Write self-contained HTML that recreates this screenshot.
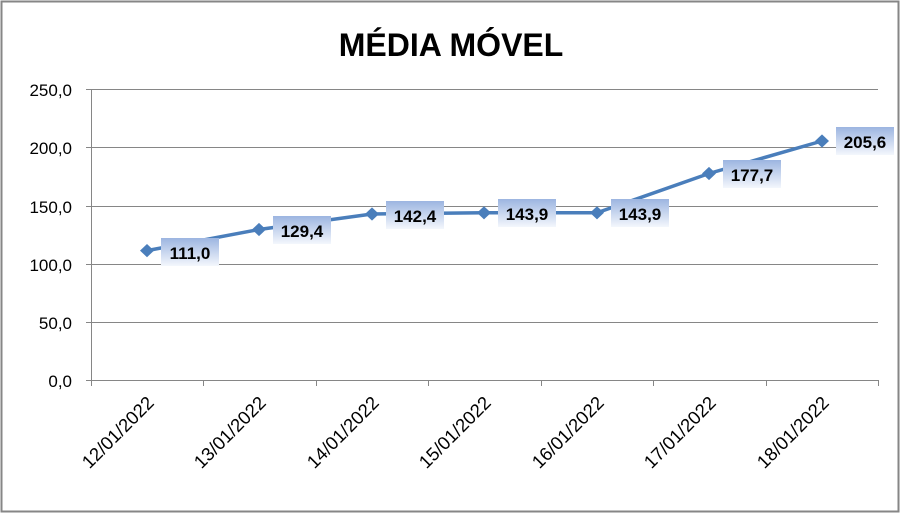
<!DOCTYPE html>
<html><head><meta charset="utf-8"><style>
body{margin:0;background:#fff}
svg{display:block;font-family:"Liberation Sans",Calibri,sans-serif}
</style></head><body>
<svg width="901" height="514" viewBox="0 0 901 514">
<defs><linearGradient id="g" x1="0" y1="0" x2="0" y2="1"><stop offset="0" stop-color="#9cb5e0"/><stop offset="1" stop-color="#f4f7fc"/></linearGradient></defs>
<rect x="1.5" y="1.5" width="897" height="510" fill="#fff" stroke="#868686" stroke-width="2"/>
<text x="451" y="56" text-anchor="middle" font-size="32" font-weight="bold" fill="#000">MÉDIA MÓVEL</text>
<g stroke="#868686" stroke-width="1">
<line x1="86" y1="89.5" x2="878" y2="89.5"/>
<line x1="86" y1="147.5" x2="878" y2="147.5"/>
<line x1="86" y1="206.5" x2="878" y2="206.5"/>
<line x1="86" y1="264.5" x2="878" y2="264.5"/>
<line x1="86" y1="322.5" x2="878" y2="322.5"/>
<line x1="86" y1="380.5" x2="878" y2="380.5"/>
<line x1="91.5" y1="89" x2="91.5" y2="386"/>
<line x1="203.5" y1="380" x2="203.5" y2="386"/><line x1="316.5" y1="380" x2="316.5" y2="386"/><line x1="428.5" y1="380" x2="428.5" y2="386"/><line x1="541.5" y1="380" x2="541.5" y2="386"/><line x1="653.5" y1="380" x2="653.5" y2="386"/><line x1="766.5" y1="380" x2="766.5" y2="386"/><line x1="878.5" y1="380" x2="878.5" y2="386"/>
</g>
<g font-size="17" text-anchor="end" fill="#000">
<text x="72" y="96">250,0</text><text x="72" y="154">200,0</text><text x="72" y="213">150,0</text><text x="72" y="271">100,0</text><text x="72" y="329">50,0</text><text x="72" y="387">0,0</text>
</g>
<g font-size="18.5" fill="#000" text-anchor="end">
<text transform="translate(155,404) rotate(-45)">12/01/2022</text>
<text transform="translate(267,404) rotate(-45)">13/01/2022</text>
<text transform="translate(380,404) rotate(-45)">14/01/2022</text>
<text transform="translate(492,404) rotate(-45)">15/01/2022</text>
<text transform="translate(605,404) rotate(-45)">16/01/2022</text>
<text transform="translate(717,404) rotate(-45)">17/01/2022</text>
<text transform="translate(830,404) rotate(-45)">18/01/2022</text>
</g>
<polyline fill="none" stroke="#4a7ebb" stroke-width="3.5" points="147,250.6 259,229.5 372,214 484,212.8 597,212.8 709,173.5 822,141"/>
<g fill="#4a7ebb">
<path d="M147,244 l7,6.6 -7,6.6 -7,-6.6z"/><path d="M259,222.9 l7,6.6 -7,6.6 -7,-6.6z"/><path d="M372,207.4 l7,6.6 -7,6.6 -7,-6.6z"/><path d="M484,206.2 l7,6.6 -7,6.6 -7,-6.6z"/><path d="M597,206.2 l7,6.6 -7,6.6 -7,-6.6z"/><path d="M709,166.9 l7,6.6 -7,6.6 -7,-6.6z"/><path d="M822,134.4 l7,6.6 -7,6.6 -7,-6.6z"/>
</g>
<g fill="url(#g)">
<rect x="161" y="238" width="58" height="28"/><rect x="273" y="216" width="58" height="28"/><rect x="386" y="201" width="58" height="28"/><rect x="498" y="199" width="58" height="28"/><rect x="611" y="199" width="58" height="28"/><rect x="723" y="160" width="58" height="28"/><rect x="836" y="127" width="58" height="28"/>
</g>
<g font-size="17" font-weight="bold" fill="#000" text-anchor="middle">
<text x="190" y="259">111,0</text><text x="302" y="237">129,4</text><text x="415" y="222">142,4</text><text x="527" y="220">143,9</text><text x="640" y="220">143,9</text><text x="752" y="181">177,7</text><text x="865" y="148">205,6</text>
</g>
</svg>
</body></html>
